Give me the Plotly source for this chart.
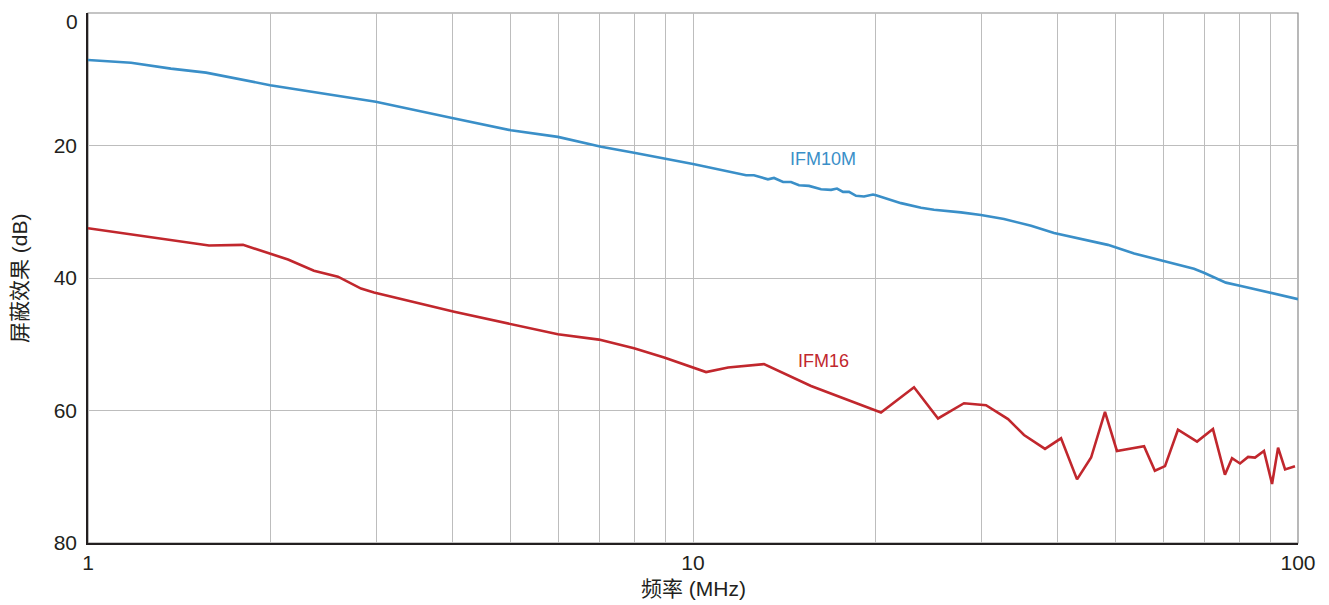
import plotly.graph_objects as go

# IFM10M (blue)
f_10m = [1.0, 1.178, 1.371, 1.567, 2.0, 2.99, 3.98, 5.0, 5.98, 7.05, 7.99, 8.99, 10.0,
         12.24, 12.61, 13.3, 13.61, 14.09, 14.52, 14.97, 15.55, 16.28, 16.91, 17.3, 17.7,
         18.11, 18.6, 19.17, 19.84, 20.07, 22.07, 23.82, 25.02, 27.73, 29.92, 32.66, 36.21,
         39.52, 44.3, 48.5, 53.6, 60.04, 67.3, 69.9, 76.0, 80.5, 89.2, 91.3, 100.0]
db_10m = [7.1, 7.5, 8.4, 9.0, 10.9, 13.4, 15.8, 17.7, 18.7, 20.2, 21.1, 22.0, 22.8,
          24.5, 24.5, 25.1, 24.9, 25.5, 25.5, 26.0, 26.1, 26.6, 26.7, 26.5, 27.0,
          27.0, 27.6, 27.7, 27.4, 27.5, 28.7, 29.4, 29.7, 30.1, 30.5, 31.1, 32.1,
          33.2, 34.2, 35.0, 36.3, 37.5, 38.6, 39.2, 40.7, 41.2, 42.1, 42.4, 43.2]

# IFM16 (red)
f_16 = [1.0, 1.585, 1.804, 2.141, 2.363, 2.589, 2.827, 2.97, 4.03, 4.46, 5.0, 5.98, 6.99,
        7.99, 8.96, 10.51, 11.43, 13.1, 15.67, 20.45, 23.19, 25.41, 28.05, 30.5, 33.17,
        35.25, 38.18, 40.58, 43.13, 45.5, 47.97, 50.2, 55.66, 58.0, 60.28, 63.33, 68.1,
        72.35, 75.72, 77.8, 80.2, 82.7, 84.9, 87.85, 90.6, 92.7, 95.2, 98.86]
db_16 = [32.5, 35.1, 35.0, 37.2, 38.9, 39.8, 41.6, 42.2, 45.1, 46.0, 47.0, 48.5, 49.3,
         50.6, 52.0, 54.2, 53.5, 53.0, 56.3, 60.3, 56.5, 61.2, 58.9, 59.2, 61.3,
         63.7, 65.8, 64.2, 70.4, 67.1, 60.2, 66.1, 65.4, 69.1, 68.4, 62.9, 64.7,
         62.8, 69.7, 67.2, 68.0, 67.0, 67.1, 66.1, 71.1, 65.6, 68.9, 68.4]

x_grid = [1, 2, 3, 4, 5, 6, 7, 8, 9, 10, 20, 30, 40, 50, 60, 70, 80, 90, 100]
x_labels = ["1", "", "", "", "", "", "", "", "", "10", "", "", "", "", "", "", "", "", "100"]
y_ticks = [0, 20, 40, 60, 80]
y_labels = ["0", "20", "40", "60", "80"]

BLUE = "#3a8fc8"
RED = "#c1272d"
FONT = "Liberation Sans, Arial, Noto Sans CJK SC, sans-serif"
TXT = "#231f20"

fig = go.Figure()
fig.add_trace(go.Scatter(x=f_10m, y=db_10m, mode="lines",
                         line=dict(color=BLUE, width=2.6), showlegend=False))
fig.add_trace(go.Scatter(x=f_16, y=db_16, mode="lines",
                         line=dict(color=RED, width=2.6), showlegend=False))

fig.add_annotation(x=1.2155, y=22.1, xref="x", yref="y", text="IFM10M", showarrow=False,
                   font=dict(family=FONT, size=18, color=BLUE))
fig.add_annotation(x=1.2155, y=52.6, xref="x", yref="y", text="IFM16", showarrow=False,
                   font=dict(family=FONT, size=18, color=RED))

# top y tick label, nudged down slightly so it stays inside the page
fig.add_annotation(x=0, y=y_ticks[0], xref="paper", yref="y", text=y_labels[0],
                   showarrow=False, xanchor="right", yanchor="middle",
                   xshift=-8, yshift=-8, font=dict(family=FONT, size=21, color=TXT))

# axis titles
fig.add_annotation(x=0, y=0.5, xref="paper", yref="paper", text="屏蔽效果 (dB)",
                   textangle=-90, showarrow=False, xanchor="center", yanchor="middle",
                   xshift=-69, font=dict(family=FONT, size=21, color=TXT))
fig.add_annotation(x=0.5, y=0, xref="paper", yref="paper", text="频率 (MHz)",
                   showarrow=False, xanchor="center", yanchor="middle",
                   yshift=-45, font=dict(family=FONT, size=21, color=TXT))

fig.add_shape(type="rect", xref="paper", yref="paper", x0=0, y0=0, x1=1, y1=1,
              line=dict(color="#8a8a8a", width=1.2), layer="below")

fig.update_layout(
    width=1322, height=598,
    margin=dict(l=80, r=32, t=5, b=63),
    paper_bgcolor="white", plot_bgcolor="white",
    font=dict(family=FONT, color=TXT),
    xaxis=dict(type="log", range=[0, 2], tickvals=x_grid, ticktext=x_labels,
               showgrid=True, gridcolor="#bdbdbd", gridwidth=1,
               showline=True, linecolor=TXT, linewidth=1.5,
               ticks="", tickfont=dict(size=21, color=TXT), ticklabelstandoff=0,
               ticklabeloverflow="allow", automargin=False, zeroline=False),
    yaxis=dict(range=[80, 0], tickvals=y_ticks[1:], ticktext=y_labels[1:],
               showgrid=True, gridcolor="#bdbdbd", gridwidth=1,
               showline=True, linecolor=TXT, linewidth=1.5,
               ticks="", tickfont=dict(size=21, color=TXT), ticklabelstandoff=5,
               ticklabeloverflow="allow", automargin=False, zeroline=False),
)

fig.write_html("out.html")
